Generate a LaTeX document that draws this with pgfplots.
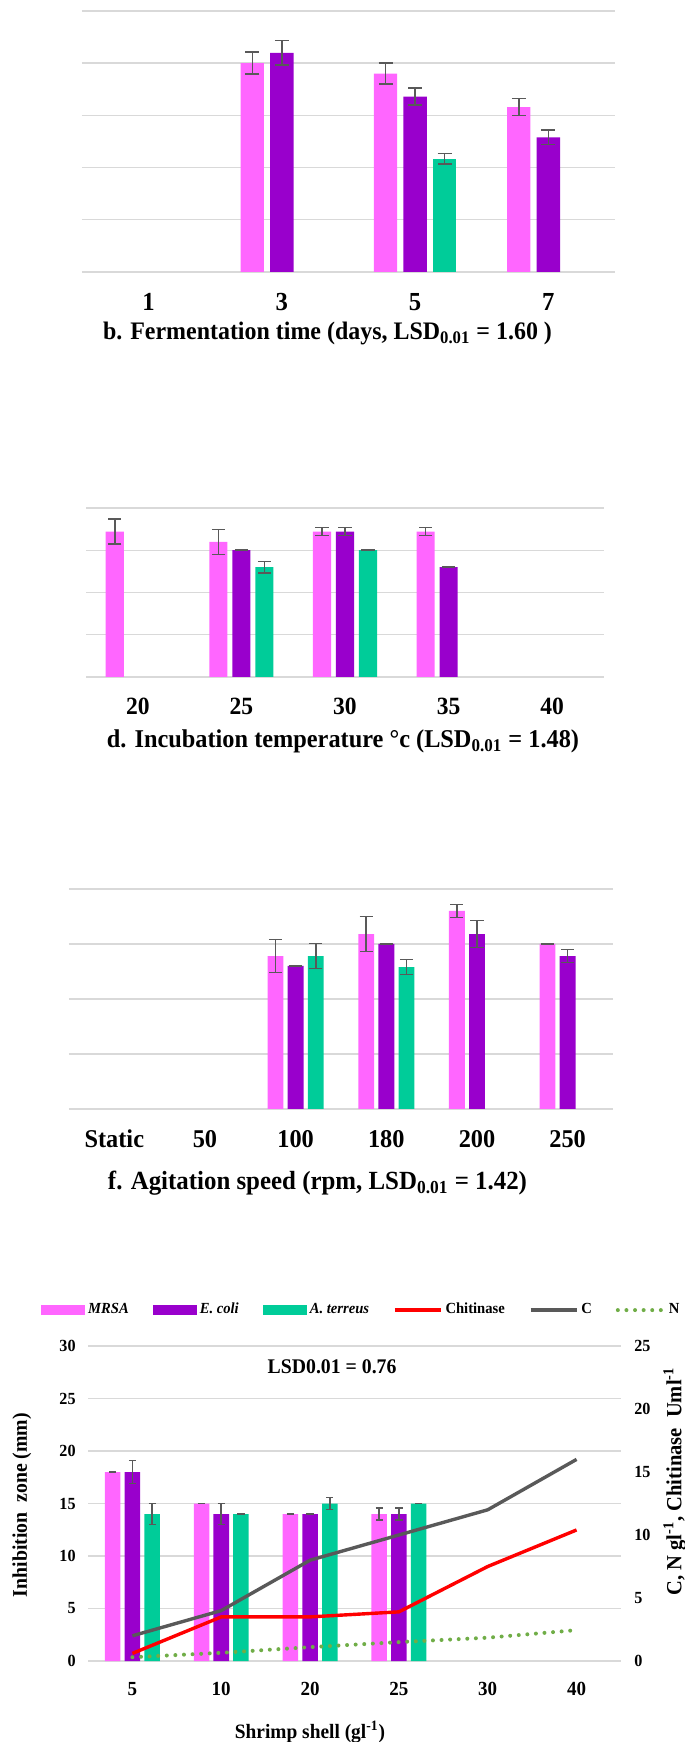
\documentclass[border=0pt]{standalone}
\usepackage{fontspec}
\setmainfont{Liberation Serif}[FakeStretch=0.95]
\usepackage{pgfplots}
\pgfplotsset{compat=1.18}
\definecolor{mrsa}{HTML}{FF66FF}
\definecolor{ecoli}{HTML}{9900CC}
\definecolor{ater}{HTML}{00CC99}
\definecolor{gridc}{HTML}{D9D9D9}
\definecolor{errc}{HTML}{595959}
\definecolor{cline}{HTML}{595959}
\definecolor{nline}{HTML}{70AD47}
\newcommand\fs[1]{\fontsize{#1}{#1}\selectfont\bfseries}
\pgfplotsset{
 panel/.style={scale only axis, anchor=south west, ymin=0, enlargelimits=false, clip=false,
   axis line style={draw=none}, ymajorgrids, grid style={line width=0.7pt, gridc},
   major tick length=0pt, bar width=0.175, /pgf/number format/assume math mode=true},
 eb/.style={/pgfplots/error bars/y dir=both, /pgfplots/error bars/y explicit,
   /pgfplots/error bars/error bar style={line width=0.75pt, errc},
   /pgfplots/error bars/error mark options={rotate=90, mark size=#1, line width=0.75pt, errc}},
 barleg/.style={legend image code/.code={\fill[##1, draw=none] (0pt,-2.4pt) rectangle (22pt,2.4pt);}},
 lineleg/.style={legend image code/.code={\draw[##1] (0pt,0pt) -- (23pt,0pt);}},
}
\begin{document}
\begin{tikzpicture}
\useasboundingbox (0,0) rectangle (342.5pt,871pt);
% ---------------- panel b
\begin{axis}[panel, ybar, at={(41pt,735pt)}, width=266.5pt, height=130.5pt,
  xmin=-0.5, xmax=3.5, ymax=25, ytick={0,5,...,25}, yticklabels={},
  xtick={0,1,2,3}, xticklabels={1,3,5,7},
  xticklabel style={font=\fs{13}, anchor=base, yshift=-19.5pt},
  xlabel={b. Fermentation time (days, LSD\textsubscript{0.01} = 1.60 )},
  xlabel style={font=\fs{12.6}, at={(axis description cs:0.5,0)}, anchor=base, yshift=-34pt, xshift=-10.5pt}]
\addplot[fill=mrsa, draw=none, bar shift=-0.222, eb=3.5pt] table[x=x, y=y, y error=e, row sep=\\]{x y e\\ 1 20 1.05\\ 2 19 1.0\\ 3 15.8 0.8\\};
\addplot[fill=ecoli, draw=none, bar shift=0, eb=3.5pt] table[x=x, y=y, y error=e, row sep=\\]{x y e\\ 1 21 1.15\\ 2 16.8 0.8\\ 3 12.9 0.7\\};
\addplot[fill=ater, draw=none, bar shift=0.222, eb=3.5pt] table[x=x, y=y, y error=e, row sep=\\]{x y e\\ 2 10.85 0.5\\};
\end{axis}
% ---------------- panel d
\begin{axis}[panel, ybar, at={(43pt,532.5pt)}, width=259pt, height=84.5pt,
  xmin=-0.5, xmax=4.5, ymax=20, ytick={0,5,...,20}, yticklabels={},
  xtick={0,1,2,3,4}, xticklabels={20,25,30,35,40},
  xticklabel style={font=\fs{12.4}, anchor=base, yshift=-19pt},
  xlabel={d. Incubation temperature °c (LSD\textsubscript{0.01} = 1.48)},
  xlabel style={font=\fs{12.8}, at={(axis description cs:0.5,0)}, anchor=base, yshift=-35.5pt, xshift=-1pt}]
\addplot[fill=mrsa, draw=none, bar shift=-0.222, eb=3.3pt] table[x=x, y=y, y error=e, row sep=\\]{x y e\\ 0 17.2 1.48\\ 1 16 1.48\\ 2 17.2 0.47\\ 3 17.2 0.47\\};
\addplot[fill=ecoli, draw=none, bar shift=0, eb=3.3pt] table[x=x, y=y, y error=e, row sep=\\]{x y e\\ 1 15 0\\ 2 17.2 0.47\\ 3 13 0\\};
\addplot[fill=ater, draw=none, bar shift=0.222, eb=3.3pt] table[x=x, y=y, y error=e, row sep=\\]{x y e\\ 1 13 0.67\\ 2 15 0\\};
\end{axis}
% ---------------- panel f
\begin{axis}[panel, ybar, at={(34.5pt,316.5pt)}, width=272pt, height=110pt,
  xmin=-0.5, xmax=5.5, ymax=20, ytick={0,5,...,20}, yticklabels={},
  xtick={0,1,2,3,4,5}, xticklabels={Static,50,100,180,200,250},
  xticklabel style={font=\fs{12.8}, anchor=base, yshift=-19.5pt},
  xlabel={f. Agitation speed (rpm, LSD\textsubscript{0.01} =  1.42)},
  xlabel style={font=\fs{13.1}, at={(axis description cs:0.5,0)}, anchor=base, yshift=-40.5pt, xshift=-11.75pt}]
\addplot[fill=mrsa, draw=none, bar shift=-0.222, eb=3.3pt] table[x=x, y=y, y error=e, row sep=\\]{x y e\\ 2 13.9 1.5\\ 3 15.9 1.6\\ 4 18 0.6\\ 5 15 0\\};
\addplot[fill=ecoli, draw=none, bar shift=0, eb=3.3pt] table[x=x, y=y, y error=e, row sep=\\]{x y e\\ 2 13 0\\ 3 15 0\\ 4 15.9 1.24\\ 5 13.9 0.6\\};
\addplot[fill=ater, draw=none, bar shift=0.222, eb=3.3pt] table[x=x, y=y, y error=e, row sep=\\]{x y e\\ 2 13.9 1.15\\ 3 12.9 0.68\\};
\end{axis}
% ---------------- bottom panel: bars (left axis)
\begin{axis}[panel, ybar, at={(44pt,40.5pt)}, width=266.5pt, height=157.5pt,
  xmin=-0.5, xmax=5.5, ymax=30, ytick={0,5,...,30},
  yticklabel style={font=\fs{8.5}, anchor=east, inner sep=0pt, xshift=-6pt},
  xtick={0,1,2,3,4,5}, xticklabels={5,10,20,25,30,40},
  xticklabel style={font=\fs{10}, anchor=base, yshift=-17pt},
  xlabel={Shrimp shell (gl\textsuperscript{-1})},
  xlabel style={font=\fs{10.2}, at={(axis description cs:0.4165,0)}, anchor=base, yshift=-38.5pt},
  ylabel={Inhibition\ \ zone (mm)},
  ylabel style={font=\fs{10.4}, at={(axis description cs:-0.124,0.495)}, anchor=center}]
\addplot[fill=mrsa, draw=none, bar shift=-0.222, eb=1.8pt] table[x=x, y=y, y error=e, row sep=\\]{x y e\\ 0 18 0\\ 1 15 0\\ 2 14 0\\ 3 14 0.55\\};
\addplot[fill=ecoli, draw=none, bar shift=0, eb=1.8pt] table[x=x, y=y, y error=e, row sep=\\]{x y e\\ 0 18 1.1\\ 1 14 1.0\\ 2 14 0\\ 3 14 0.55\\};
\addplot[fill=ater, draw=none, bar shift=0.222, eb=1.8pt] table[x=x, y=y, y error=e, row sep=\\]{x y e\\ 0 14 1.0\\ 1 14 0\\ 2 15 0.57\\ 3 15 0\\};
\node[font=\fs{10.4}] at (axis description cs:0.458,0.933) {LSD0.01 = 0.76};
\end{axis}
% ---------------- bottom panel: lines (right axis)
\begin{axis}[scale only axis, anchor=south west, at={(44pt,40.5pt)}, width=266.5pt, height=157.5pt,
  xmin=-0.5, xmax=5.5, ymin=0, ymax=25, ytick={0,5,...,25}, clip=false,
  axis x line=none, axis y line*=right, axis line style={draw=none}, major tick length=0pt,
  /pgf/number format/assume math mode=true,
  yticklabel style={font=\fs{8.5}, anchor=west, inner sep=0pt, xshift=6.5pt},
  ylabel={C, N gl\textsuperscript{-1}, Chitinase\ \ Uml\textsuperscript{-1}},
  ylabel style={font=\fs{10.8}, at={(axis description cs:1.101,0.57)}, anchor=center},
  legend columns=6,
  legend style={at={(axis description cs:-0.0887,1.114)}, anchor=west, draw=none, fill=none,
    inner sep=0pt, font=\fs{7.7}, /tikz/every even column/.append style={column sep=10.5pt},
    nodes={inner sep=1.5pt}},
  legend cell align=left]
\addlegendimage{barleg, fill=mrsa}\addlegendentry{\itshape MRSA}
\addlegendimage{barleg, fill=ecoli}\addlegendentry{\itshape E. coli}
\addlegendimage{barleg, fill=ater}\addlegendentry{\itshape A. terreus}
\addplot[lineleg, red, line width=1.7pt, mark=none] coordinates {(0,0.6) (1,3.5) (2,3.5) (3,3.9) (4,7.5) (5,10.4)};
\addlegendentry{Chitinase}
\addplot[lineleg, cline, line width=1.7pt, mark=none] coordinates {(0,2) (1,4) (2,8) (3,10) (4,12) (5,16)};
\addlegendentry{C}
\addplot[lineleg, nline, line width=2pt, line cap=round, dash pattern=on 0pt off 4.3pt, mark=none] coordinates {(0,0.3) (1,0.65) (2,1.1) (3,1.5) (4,1.85) (5,2.45)};
\addlegendentry{N}
\end{axis}
\end{tikzpicture}
\end{document}
